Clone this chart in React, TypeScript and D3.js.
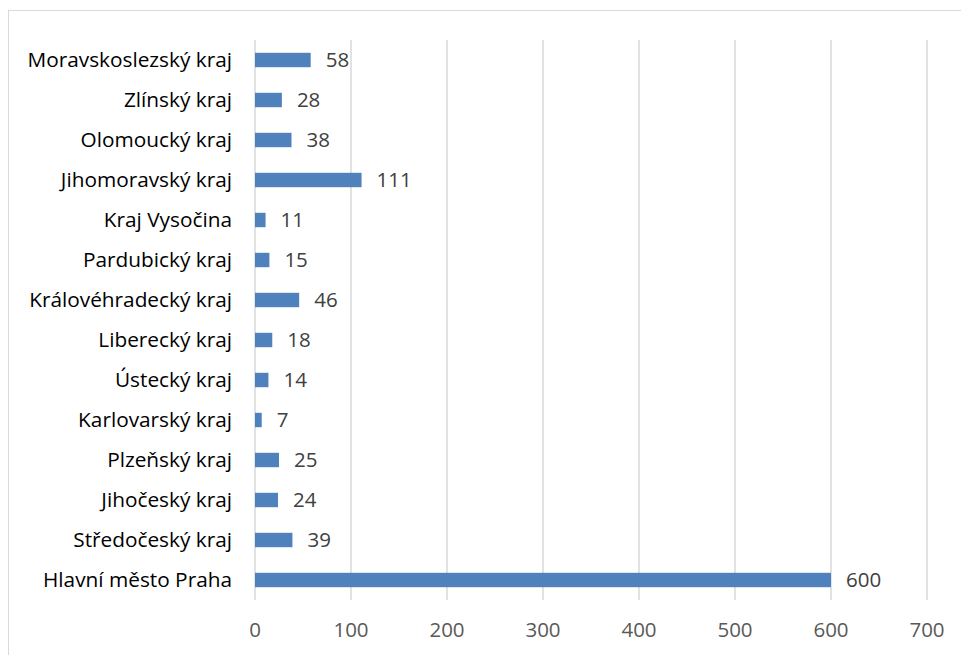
import React from "react";
import * as d3 from "d3";

const categories = [
  "Hlavní město Praha",
  "Středočeský kraj",
  "Jihočeský kraj",
  "Plzeňský kraj",
  "Karlovarský kraj",
  "Ústecký kraj",
  "Liberecký kraj",
  "Královéhradecký kraj",
  "Pardubický kraj",
  "Kraj Vysočina",
  "Jihomoravský kraj",
  "Olomoucký kraj",
  "Zlínský kraj",
  "Moravskoslezský kraj",
];
const values = [600, 39, 24, 25, 7, 14, 18, 46, 15, 11, 111, 38, 28, 58];
const ticks = [0, 100, 200, 300, 400, 500, 600, 700];

const W = 961;
const H = 655;
const FONT = "'Open Sans', Lato, sans-serif";

export default function App() {
  const x = d3.scaleLinear().domain([0, 700]).range([255, 927]);
  const y = d3
    .scaleBand<string>()
    .domain([...categories].reverse())
    .range([40, 600])
    .paddingInner(0.64)
    .paddingOuter(0.32);

  return (
    <svg
      width={W}
      height={H}
      style={{ position: "absolute", left: 0, top: 0, background: "#fff" }}
    >
      <rect x={8.5} y={10.5} width={W + 20} height={H + 20} fill="#fff" stroke="#d9d9d9" strokeWidth={1} />
      {ticks.map((t) => (
        <line key={t} x1={x(t)} x2={x(t)} y1={40} y2={600} stroke="#d9d9d9" strokeWidth={1.5} />
      ))}
      {categories.map((c, i) => (
        <g key={c}>
          <rect
            x={x(0)}
            y={y(c)!}
            width={x(values[i]) - x(0)}
            height={y.bandwidth()}
            fill="#4f81bd"
          />
          <text
            x={x(values[i]) + 15}
            y={y(c)! + y.bandwidth() / 2}
            dy="0.35em"
            fontFamily={FONT}
            fontSize={20.5}
            fill="#404040"
          >
            {values[i]}
          </text>
          <text
            x={232}
            y={y(c)! + y.bandwidth() / 2}
            dy="0.35em"
            textAnchor="end"
            fontFamily={FONT}
            fontSize={20.8}
            fill="#000"
          >
            {c}
          </text>
        </g>
      ))}
      {ticks.map((t) => (
        <text
          key={"t" + t}
          x={x(t)}
          y={630}
          dy="0.35em"
          textAnchor="middle"
          fontFamily={FONT}
          fontSize={20.5}
          fill="#595959"
        >
          {t}
        </text>
      ))}
    </svg>
  );
}
